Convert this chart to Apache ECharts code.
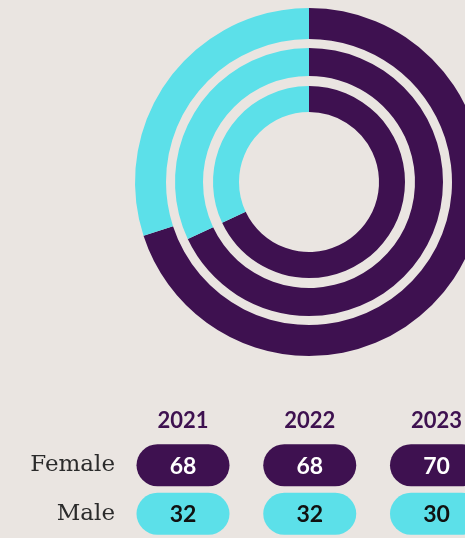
<!DOCTYPE html>
<html>
<head>
<meta charset="utf-8">
<script src="https://cdn.jsdelivr.net/npm/echarts@6/dist/echarts.min.js"></script>
<style>
  html, body { margin: 0; padding: 0; background: #eae5e1; }
  #chart { width: 465px; height: 538px; }
</style>
</head>
<body>
<div id="chart"></div>
<script>
const years = ['2021', '2022', '2023']
const genders = ['Female', 'Male']
const female = [68, 68, 70]
const male = [32, 32, 30]

const PURPLE = '#3e1150'
const CYAN = '#5ce0e9'

// rings: inner = 2021, outer = 2023
const ringRadii = [[70, 96], [106, 134], [143, 174]]

const chart = echarts.init(document.getElementById('chart'))

const pieSeries = years.map((y, i) => ({
  type: 'pie',
  name: y,
  center: [309, 182],
  radius: ringRadii[i],
  startAngle: 90,
  clockwise: true,
  silent: true,
  label: { show: false },
  labelLine: { show: false },
  data: [
    { name: 'Female', value: female[i], itemStyle: { color: PURPLE } },
    { name: 'Male', value: male[i], itemStyle: { color: CYAN } },
  ],
}))

// table cells: [yearIdx, genderIdx, value]
const cells = []
years.forEach((y, i) => {
  cells.push([i, 0, female[i]])
  cells.push([i, 1, male[i]])
})

const tableSeries = {
  type: 'custom',
  coordinateSystem: 'cartesian2d',
  silent: true,
  data: cells,
  renderItem(params, api) {
    const p = api.coord([api.value(0), api.value(1)])
    const w = 93
    const h = 42
    const isFemale = api.value(1) === 0
    return {
      type: 'group',
      children: [
        {
          type: 'rect',
          shape: { x: p[0] - w / 2, y: p[1] - h / 2, width: w, height: h, r: h / 2 },
          style: { fill: isFemale ? PURPLE : CYAN },
        },
        {
          type: 'text',
          x: p[0],
          y: p[1] + 1,
          style: {
            text: String(api.value(2)),
            fill: isFemale ? '#ffffff' : '#111111',
            font: 'bold 23px Lato',
            align: 'center',
            verticalAlign: 'middle',
          },
        },
      ],
    }
  },
}

chart.setOption({
  backgroundColor: '#eae5e1',
  animation: false,
  // column centres sit on the grid edges (boundaryGap false)
  grid: {
    left: 183,
    top: 441,
    width: 254,
    height: 100,
  },
  xAxis: {
    type: 'category',
    data: years,
    position: 'top',
    boundaryGap: false,
    axisLine: { show: false },
    axisTick: { show: false },
    axisLabel: {
      margin: 9,
      color: PURPLE,
      fontFamily: 'Lato',
      fontWeight: 'bold',
      fontSize: 22,
    },
  },
  yAxis: {
    type: 'category',
    data: genders,
    inverse: true,
    axisLine: { show: false },
    axisTick: { show: false },
    axisLabel: {
      margin: 68,
      color: '#2b2b2b',
      fontFamily: 'DejaVu Serif',
      fontSize: 23,
    },
  },
  series: [...pieSeries, tableSeries],
})
</script>
</body>
</html>
